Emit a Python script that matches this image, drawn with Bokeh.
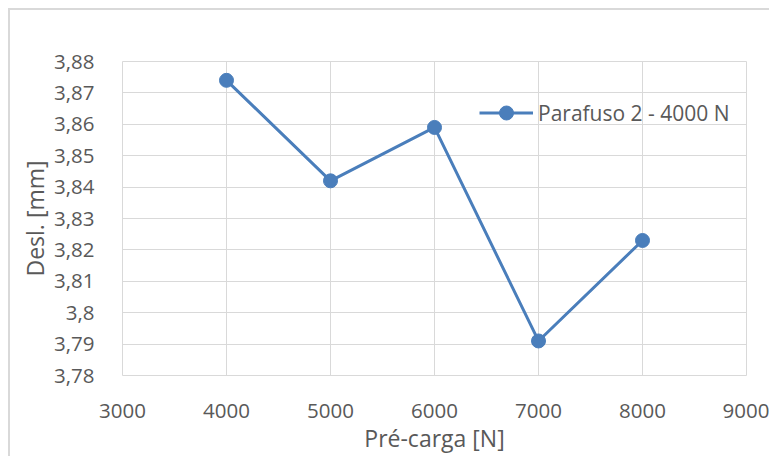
from bokeh.plotting import figure
from bokeh.embed import file_html
from bokeh.resources import INLINE
from bokeh.models import FixedTicker, Range1d, Legend, LegendItem

# Data
pre_carga = [4000, 5000, 6000, 7000, 8000]
desl = [3.874, 3.842, 3.859, 3.791, 3.823]
series_name = "Parafuso 2 - 4000 N"

x_ticks = [3000, 4000, 5000, 6000, 7000, 8000, 9000]
y_ticks = [3.78, 3.79, 3.80, 3.81, 3.82, 3.83, 3.84, 3.85, 3.86, 3.87, 3.88]
y_tick_labels = ["3,78", "3,79", "3,8", "3,81", "3,82", "3,83", "3,84", "3,85", "3,86", "3,87", "3,88"]

FONT = "Open Sans"
TXT = "#595959"
GRID = "#d9d9d9"
BLUE = "#4a7ebb"

p = figure(width=761, height=448, output_backend="svg", toolbar_location=None,
           x_range=Range1d(3000, 9000), y_range=Range1d(3.78, 3.88),
           min_border_left=112, min_border_right=25, min_border_top=51, min_border_bottom=83)
p.margin = (8, 0, 0, 8)
p.styles = {"border-left": "2px solid #d9d9d9", "border-top": "2px solid #d9d9d9"}

p.outline_line_color = GRID
p.outline_line_width = 1
p.grid.grid_line_color = GRID
p.grid.grid_line_width = 1

p.xaxis.ticker = FixedTicker(ticks=x_ticks)
p.yaxis.ticker = FixedTicker(ticks=y_ticks)
p.yaxis.major_label_overrides = {t: l for t, l in zip(y_ticks, y_tick_labels)}
p.xgrid.ticker = FixedTicker(ticks=x_ticks)
p.ygrid.ticker = FixedTicker(ticks=y_ticks)

for ax in (p.xaxis, p.yaxis):
    ax.axis_line_color = None
    ax.major_tick_line_color = None
    ax.minor_tick_line_color = None
    ax.major_label_text_font = FONT
    ax.major_label_text_font_size = "20.5px"
    ax.major_label_text_color = TXT
    ax.axis_label_text_font = FONT
    ax.axis_label_text_font_size = "23px"
    ax.axis_label_text_color = TXT
    ax.axis_label_text_font_style = "normal"

p.xaxis.axis_label = "Pré-carga [N]"
p.yaxis.axis_label = "Desl. [mm]"
p.xaxis.major_label_standoff = 22
p.yaxis.major_label_standoff = 22
p.xaxis.axis_label_standoff = 1
p.yaxis.axis_label_standoff = 0

r_line = p.line(pre_carga, desl, line_color=BLUE, line_width=3)
r_pts = p.scatter(pre_carga, desl, size=14, fill_color=BLUE, line_color=BLUE)

legend = Legend(items=[LegendItem(label=series_name, renderers=[r_line, r_pts])],
                location=(357, 245), padding=0, margin=0, spacing=0,
                glyph_width=54, glyph_height=35, label_height=35, label_standoff=5,
                background_fill_alpha=0, border_line_alpha=0,
                label_text_font=FONT, label_text_font_size="21px", label_text_color=TXT)
p.add_layout(legend)

open("out.html", "w").write(file_html(p, INLINE))
